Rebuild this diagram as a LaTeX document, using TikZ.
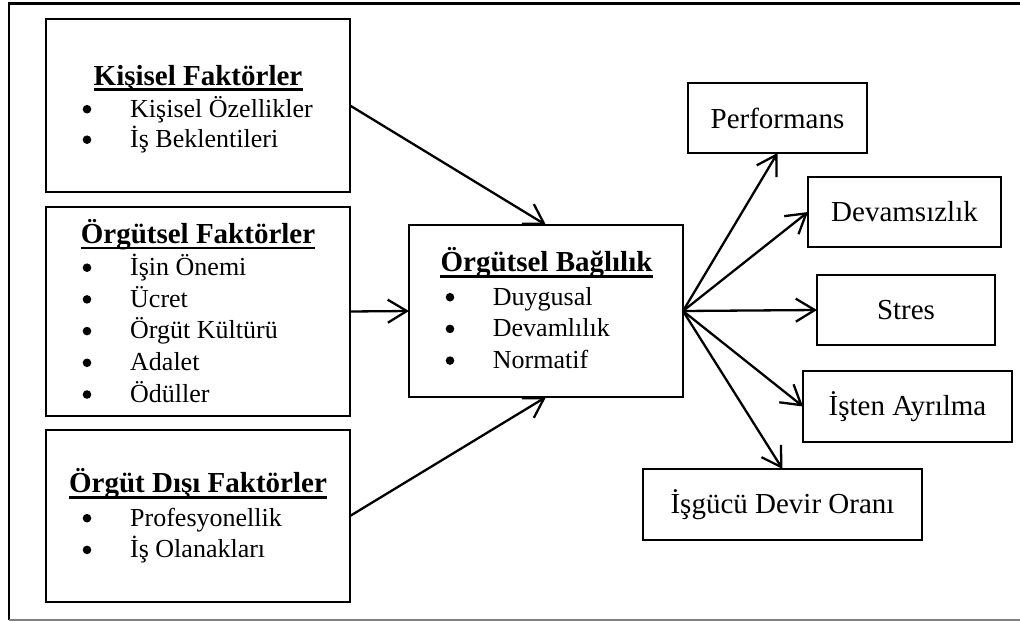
\documentclass[tikz,border=0pt]{standalone}
\usepackage{fontspec}
\setmainfont{Liberation Serif}
\usetikzlibrary{arrows.meta}
\begin{document}
\begin{tikzpicture}[x=1pt,y=-1pt,
  frame/.style={draw, line width=2.2pt, inner sep=0pt, outer sep=0pt},
  outbox/.style={draw, line width=2.2pt, inner sep=0pt, outer sep=0pt, font=\fontsize{29}{34}\selectfont},
  ttl/.style={anchor=base, inner sep=0pt, font=\fontsize{29}{34}\selectfont\bfseries},
  itm/.style={anchor=base west, inner sep=0pt, font=\fontsize{26}{30}\selectfont},
  bul/.style={circle, fill=black, inner sep=0pt, minimum size=8.6pt, yshift=7.8pt},
  uline/.style={line width=2.6pt},
  conn/.style={line width=2.3pt, -{Straight Barb[length=19pt,width=23pt]}}]
\useasboundingbox (0,0) rectangle (1020,621);
% outer frame
\draw[line width=2.4pt] (9,620) -- (9,3.5) -- (1020,3.5);
\draw[gray, line width=1.5pt] (9,620) -- (1020,620);

% left boxes
\node[frame, minimum width=304pt, minimum height=173pt] (kf) at (198,105.5) {};
\node[frame, minimum width=304pt, minimum height=209pt] (of) at (198,311.5) {};
\node[frame, minimum width=304pt, minimum height=172pt] (odf) at (198,516) {};
% centre box
\node[frame, minimum width=274pt, minimum height=172pt] (ob) at (546,311) {};
% right boxes
\node[outbox, minimum width=179pt, minimum height=70pt] (perf) at (777.5,118) {Performans};
\node[outbox, minimum width=193pt, minimum height=70pt] (dev) at (904.5,212) {Devamsızlık};
\node[outbox, minimum width=178pt, minimum height=70pt] (str) at (906,310) {Stres};
\node[outbox, minimum width=209pt, minimum height=71pt] (ayr) at (907.5,406.5) {İşten Ayrılma};
\node[outbox, minimum width=279pt, minimum height=71pt] (dvr) at (782.5,504.5) {İşgücü Devir Oranı};

% Kişisel Faktörler
\node[ttl] (t1) at (198,85) {Kişisel Faktörler};
\draw[uline] ([yshift=-4.5pt]t1.base west) -- ([yshift=-4.5pt]t1.base east);
\node[bul] (b11) at (87,117) {};
\node[itm] (i11) at (130,117) {Kişisel Özellikler};
\node[bul] (b12) at (87,147.5) {};
\node[itm] (i12) at (130,147.5) {İş Beklentileri};

% Örgütsel Faktörler
\node[ttl] (t2) at (198,243.5) {Örgütsel Faktörler};
\draw[uline] ([yshift=-4.5pt]t2.base west) -- ([yshift=-4.5pt]t2.base east);
\node[bul] (b21) at (87,275.5) {};
\node[itm] (i21) at (130,275.5) {İşin Önemi};
\node[bul] (b22) at (87,307.2) {};
\node[itm] (i22) at (130,307.2) {Ücret};
\node[bul] (b23) at (87,338.9) {};
\node[itm] (i23) at (130,338.9) {Örgüt Kültürü};
\node[bul] (b24) at (87,370.6) {};
\node[itm] (i24) at (130,370.6) {Adalet};
\node[bul] (b25) at (87,402.3) {};
\node[itm] (i25) at (130,402.3) {Ödüller};

% Örgüt Dışı Faktörler
\node[ttl] (t3) at (198,492.7) {Örgüt Dışı Faktörler};
\draw[uline] ([yshift=-4.5pt]t3.base west) -- ([yshift=-4.5pt]t3.base east);
\node[bul] (b31) at (87,526) {};
\node[itm] (i31) at (130,526) {Profesyonellik};
\node[bul] (b32) at (87,557.7) {};
\node[itm] (i32) at (130,557.7) {İş Olanakları};

% Örgütsel Bağlılık
\node[ttl] (t4) at (546.5,271.7) {Örgütsel Bağlılık};
\draw[uline] ([yshift=-4.5pt]t4.base west) -- ([yshift=-4.5pt]t4.base east);
\node[bul] (b41) at (450,305) {};
\node[itm] (i41) at (492.7,305) {Duygusal};
\node[bul] (b42) at (450,336.7) {};
\node[itm] (i42) at (492.7,336.7) {Devamlılık};
\node[bul] (b43) at (450,368.4) {};
\node[itm] (i43) at (492.7,368.4) {Normatif};

% connectors
\draw[conn] (kf.east) -- (ob.north);
\draw[conn] (of.east) -- (ob.west);
\draw[conn] (odf.east) -- (ob.south);
\draw[conn] (ob.east) -- (perf.south);
\draw[conn] (ob.east) -- (dev.west);
\draw[conn] (ob.east) -- (str.west);
\draw[conn] (ob.east) -- (ayr.west);
\draw[conn] (ob.east) -- (dvr.north);
\end{tikzpicture}
\end{document}
